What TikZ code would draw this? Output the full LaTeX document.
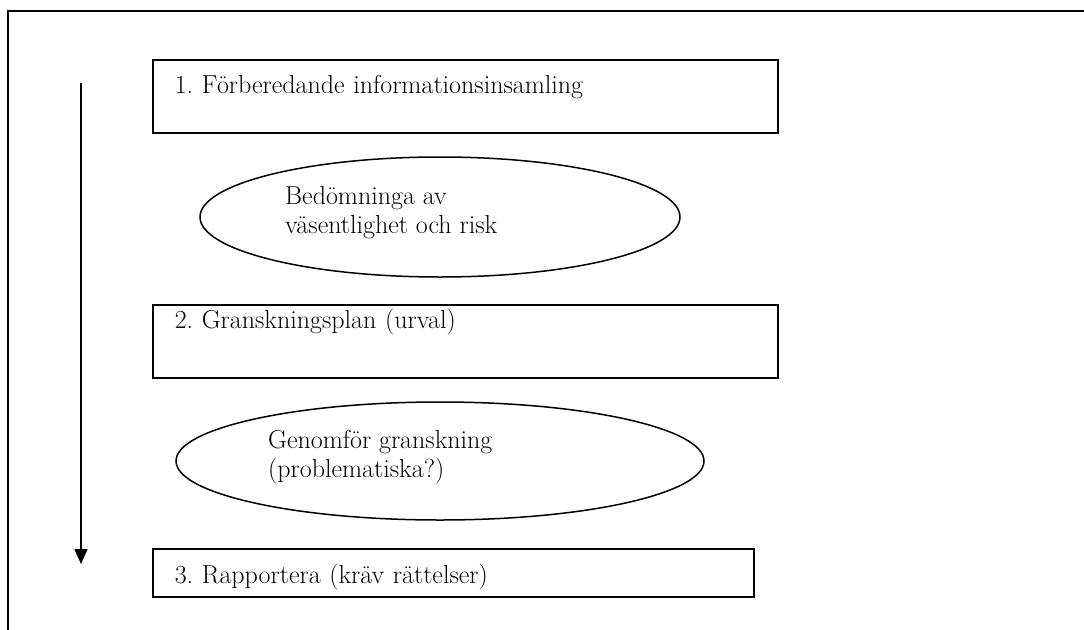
\documentclass[tikz,border=0pt]{standalone}
\usetikzlibrary{arrows.meta,shapes.geometric}
\begin{document}
\frenchspacing
\begin{tikzpicture}[x=1pt,y=-1pt,
  stepbox/.style={draw, line width=1.5pt, anchor=north west, inner xsep=22pt, inner ysep=0pt,
    align=left, font=\fontsize{26}{29}\selectfont},
  oval/.style={draw, ellipse, line width=1.5pt, inner sep=0pt},
  ovaltext/.style={anchor=west, inner sep=0pt, align=left, font=\fontsize{26}{29}\selectfont}]
\useasboundingbox (0,0) rectangle (1084,629);
\fill[white] (0,0) rectangle (1084,629);
\draw[line width=2pt] (8,640) -- (8,11) -- (1090,11);
\node[stepbox, text width=581pt, text height=34pt, text depth=39pt] (collect) at (152,59)
  {1. Förberedande informationsinsamling};
\node[oval, minimum width=480pt, minimum height=120pt] (risk) at (440,217) {};
\node[ovaltext] (risktext) at (285,213) {Bedömninga av\\väsentlighet och risk};
\node[stepbox, text width=581pt, text height=24pt, text depth=49pt] (plan) at (152,304)
  {2. Granskningsplan (urval)};
\node[oval, minimum width=528pt, minimum height=118pt] (review) at (440,461) {};
\node[ovaltext] (reviewtext) at (268,457) {Genomför granskning\\(problematiska?)};
\node[stepbox, text width=557pt, text height=35pt, text depth=13pt] (report) at (152,548)
  {3. Rapportera (kräv rättelser)};
\coordinate (flowtop) at (81,83);
\coordinate (flowend) at (81,564);
\draw[line width=1.3pt, -{Triangle[width=13pt,length=15pt]}] (flowtop) -- (flowend);
\end{tikzpicture}
\end{document}
